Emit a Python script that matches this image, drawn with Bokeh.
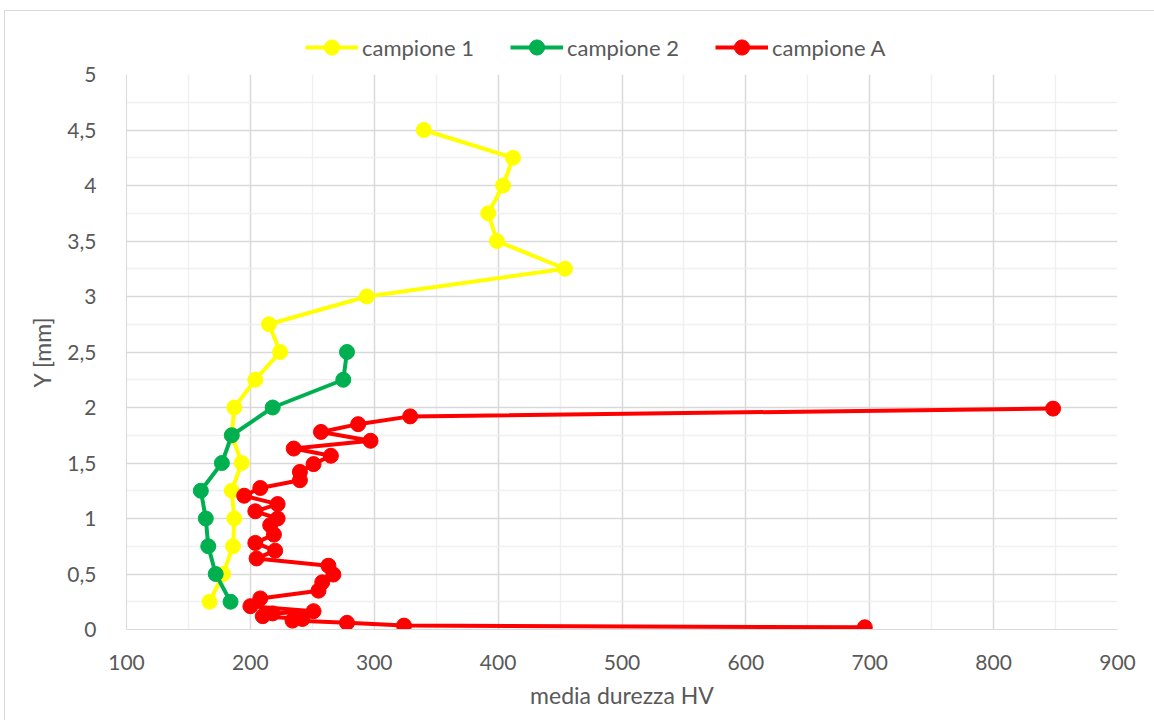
from bokeh.plotting import figure
from bokeh.layouts import column
from bokeh.models import (Range1d, FixedTicker, CustomJSTickFormatter, Legend, LegendItem)
from bokeh.embed import file_html
from bokeh.resources import INLINE

# Hardness profiles: depth Y [mm] vs mean Vickers hardness
campione1_y = [0.25, 0.5, 0.75, 1.0, 1.25, 1.5, 1.75, 2.0, 2.25, 2.5, 2.75, 3.0,
               3.25, 3.5, 3.75, 4.0, 4.25, 4.5]
campione1_hv = [167, 178, 186, 187, 185, 193, 185, 187, 204, 224, 215, 294,
                454, 399, 392, 404, 412, 340]

campione2_y = [0.25, 0.5, 0.75, 1.0, 1.25, 1.5, 1.75, 2.0, 2.25, 2.5]
campione2_hv = [184, 172, 166, 164, 160, 177, 185, 218, 275, 278]

campioneA_y = [1.99, 1.92, 1.85, 1.78, 1.70, 1.63, 1.565, 1.49, 1.42, 1.345,
               1.275, 1.205, 1.13, 1.065, 1.0, 0.94, 0.855, 0.78, 0.71, 0.64,
               0.575, 0.495, 0.425, 0.35, 0.28, 0.21, 0.165, 0.145, 0.12, 0.095,
               0.08, 0.06, 0.035, 0.02]
campioneA_hv = [848, 329, 287, 257, 297, 235, 265, 251, 240, 240,
                208, 195, 222, 204, 222, 216, 219, 204, 220, 205,
                263, 267, 258, 255, 208, 200, 251, 218, 210, 242,
                234, 278, 324, 696]

x_ticks = [100, 200, 300, 400, 500, 600, 700, 800, 900]
x_minor = [150, 250, 350, 450, 550, 650, 750, 850]
y_ticks = [0, 0.5, 1, 1.5, 2, 2.5, 3, 3.5, 4, 4.5, 5]
y_minor = [0.25, 0.75, 1.25, 1.75, 2.25, 2.75, 3.25, 3.75, 4.25, 4.75]

series = [
    ("campione 1", campione1_hv, campione1_y, "#FFFF00"),
    ("campione 2", campione2_hv, campione2_y, "#00B050"),
    ("campione A", campioneA_hv, campioneA_y, "#FF0000"),
]

FONT = "Lato"
TXT = "#595959"
W = 1149

# ---- main chart ----
p = figure(width=W, height=659, output_backend="svg", toolbar_location=None,
           x_range=Range1d(100, 900), y_range=Range1d(0, 5),
           min_border_left=121, min_border_right=37,
           min_border_top=13, min_border_bottom=91)
p.outline_line_color = None
p.background_fill_color = "white"
p.border_fill_color = "white"

p.xaxis.ticker = FixedTicker(ticks=x_ticks, minor_ticks=x_minor)
p.yaxis.ticker = FixedTicker(ticks=y_ticks, minor_ticks=y_minor)
p.yaxis.formatter = CustomJSTickFormatter(code="return tick.toString().replace('.', ',');")

for ax in (p.xaxis, p.yaxis):
    ax.axis_line_color = "#d9d9d9"
    ax.major_tick_line_color = None
    ax.minor_tick_line_color = None
    ax.major_label_text_font = FONT
    ax.major_label_text_font_size = "21px"
    ax.major_label_text_color = TXT
    ax.axis_label_text_font = FONT
    ax.axis_label_text_font_size = "23px"
    ax.axis_label_text_color = TXT
    ax.axis_label_text_font_style = "normal"

p.xaxis.axis_label = "media durezza HV"
p.yaxis.axis_label = "Y [mm]"
p.xaxis.major_label_standoff = 19
p.xaxis.axis_label_standoff = 8
p.yaxis.major_label_standoff = 24
p.yaxis.axis_label_standoff = 8

for g in (p.xgrid, p.ygrid):
    g.grid_line_color = "#d9d9d9"
    g.grid_line_width = 1.5
    g.minor_grid_line_color = "#f0f0f0"
    g.minor_grid_line_width = 1.5

for name, hv, y, col in series:
    p.line(hv, y, line_color=col, line_width=4)
    p.scatter(hv, y, marker="circle", size=15, fill_color=col, line_color=col)

# ---- legend strip above the chart (its own series lie outside its view) ----
lf = figure(width=W, height=50, output_backend="svg", toolbar_location=None,
            x_range=Range1d(0, 1), y_range=Range1d(0, 1),
            min_border=0, x_axis_type=None, y_axis_type=None)
lf.outline_line_color = None
lf.xgrid.visible = False
lf.ygrid.visible = False

legend_x = [179, 384, 589]
for (name, hv, y, col), lx in zip(series, legend_x):
    ln = lf.line(hv, y, line_color=col, line_width=4)
    sc = lf.scatter(hv, y, marker="circle", fill_color=col, line_color=col)
    lg = Legend(items=[LegendItem(label=name, renderers=[ln, sc])],
                location=(lx, -5), orientation="horizontal",
                glyph_width=53, glyph_height=38, label_standoff=4,
                padding=0, margin=0, border_line_color=None,
                background_fill_alpha=0,
                label_text_font=FONT, label_text_font_size="22px",
                label_text_color=TXT)
    lf.add_layout(lg, "center")

layout = column(lf, p, spacing=0, margin=(10, 0, 0, 4),
                styles={"border-top": "1px solid #d9d9d9",
                        "border-left": "1px solid #d9d9d9"})

open("out.html", "w").write(file_html(layout, INLINE))
